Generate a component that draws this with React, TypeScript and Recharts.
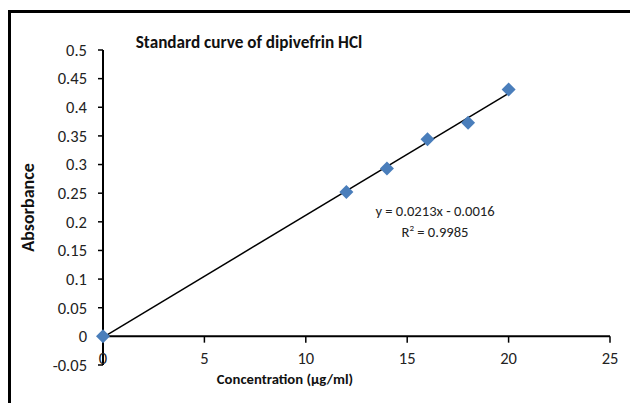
import { ScatterChart, Scatter, XAxis, YAxis, ReferenceLine } from "recharts";

const concentration = [0, 12, 14, 16, 18, 20];
const absorbance = [0, 0.252, 0.293, 0.344, 0.373, 0.431];
const xTicks = [0, 5, 10, 15, 20, 25];
const yTicks = [-0.05, 0, 0.05, 0.1, 0.15, 0.2, 0.25, 0.3, 0.35, 0.4, 0.45, 0.5];
const slope = 0.0213;
const intercept = -0.0016;

const points = concentration.map((x, i) => ({ x, y: absorbance[i] }));
const trendFrom = { x: 0, y: intercept };
const trendTo = { x: 20, y: slope * 20 + intercept };

const FONT = "Calibri, Carlito, 'Liberation Sans', Arial, sans-serif";
const BLUE = "#4A7EBB";

const Diamond = (props: any) => {
  const { cx, cy } = props;
  const r = 7;
  return <path d={`M${cx},${cy - r}L${cx + r},${cy}L${cx},${cy + r}L${cx - r},${cy}Z`} fill={BLUE} />;
};

const XTick = (props: any) => {
  const { x, y, payload } = props;
  return (
    <text x={x} y={y} dy={-9} textAnchor="middle" fontSize={16.5} fill="#222" fontFamily={FONT}>
      {payload.value}
    </text>
  );
};

export default function App() {
  return (
    <div style={{ position: "absolute", left: 0, top: 0, width: 630, height: 403, background: "#fff", overflow: "hidden" }}>
      <div style={{ position: "absolute", left: 8, top: 10, width: 640, height: 410, borderLeft: "3px solid #000", borderTop: "3px solid #000" }} />
      <ScatterChart width={630} height={403} margin={{ top: 50, right: 20, bottom: 0, left: 10 }}>
        <XAxis
          type="number"
          dataKey="x"
          domain={[0, 25]}
          ticks={xTicks}
          axisLine={false}
          tickLine={false}
          tick={<XTick />}
          height={38}
        />
        <YAxis
          type="number"
          dataKey="y"
          domain={[-0.05, 0.5]}
          ticks={yTicks}
          width={93}
          axisLine={{ stroke: "#000", strokeWidth: 2 }}
          tickLine={{ stroke: "#000", strokeWidth: 1.5 }}
          tickSize={5}
          tickMargin={11}
          tickFormatter={(v: number) => String(Math.round(v * 100) / 100)}
          tick={{ fontSize: 16.5, fill: "#222", fontFamily: FONT }}
          interval={0}
          label={{
            value: "Absorbance",
            angle: -90,
            position: "insideLeft",
            offset: 18,
            textAnchor: "middle",
            style: { fontSize: 18, fontWeight: "bold", fill: "#111", fontFamily: FONT, textAnchor: "middle" },
          }}
        />
        <ReferenceLine y={0} stroke="#000" strokeWidth={2} />
        {xTicks.slice(1).map((t) => (
          <ReferenceLine
            key={t}
            segment={[{ x: t, y: 0 }, { x: t, y: -0.011 }]}
            stroke="#000"
            strokeWidth={1.5}
          />
        ))}
        <ReferenceLine segment={[trendFrom, trendTo]} stroke="#000" strokeWidth={1.5} ifOverflow="visible" />
        <Scatter data={points} shape={<Diamond />} isAnimationActive={false} />
      </ScatterChart>
      <div style={{ position: "absolute", left: 0, width: 498, top: 32, textAlign: "center", fontFamily: FONT, fontWeight: "bold", fontSize: 17.2, color: "#111", whiteSpace: "nowrap" }}>
        Standard curve of dipivefrin HCl
      </div>
      <div style={{ position: "absolute", left: 0, width: 570, top: 370, textAlign: "center", fontFamily: FONT, fontWeight: "bold", fontSize: 14.7, color: "#111", whiteSpace: "nowrap" }}>
        Concentration (µg/ml)
      </div>
      <div style={{ position: "absolute", left: 335, width: 200, top: 201, textAlign: "center", fontFamily: FONT, fontSize: 14.6, color: "#222", lineHeight: "21px", whiteSpace: "nowrap" }}>
        <div>y = 0.0213x - 0.0016</div>
        <div>
          R<span style={{ fontSize: 9, verticalAlign: "top", lineHeight: "12px" }}>2</span> = 0.9985
        </div>
      </div>
    </div>
  );
}
